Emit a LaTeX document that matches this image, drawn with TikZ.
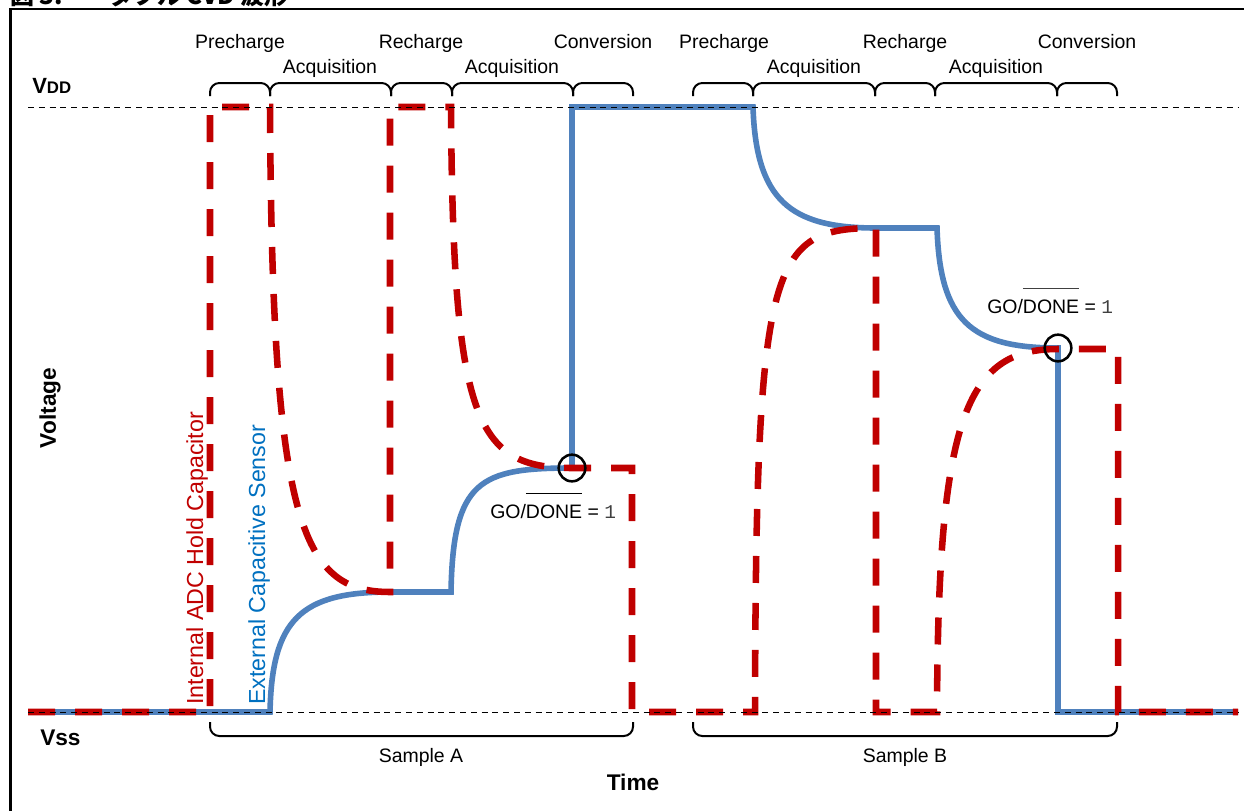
\documentclass[tikz,border=0pt]{standalone}
\usepackage{fontspec}
\setmainfont{Liberation Sans}
\newfontfamily\monofont{Liberation Mono}
\newfontfamily\cjkfont{Noto Sans CJK JP}

\definecolor{holdred}{HTML}{C00000}
\definecolor{sensorblue}{HTML}{4F81BD}
\definecolor{sensortext}{HTML}{0070C0}
\definecolor{digitgray}{HTML}{404040}

% bar drawn high above a word (active-low signal name)
\newcommand\barsig[2][black]{\setbox0\hbox{#2}\rlap{\textcolor{#1}{\rule[1.22em]{\wd0}{0.8pt}}}\box0\relax}

\begin{document}
\begin{tikzpicture}[x=0.75pt,y=-0.75pt,
  frame/.style={line width=2.1pt},
  refline/.style={black,line width=0.75pt,dash pattern=on 4.5pt off 3.6pt},
  sensor/.style={sensorblue,line width=4.2pt,line join=miter},
  hold/.style={holdred,line width=4.9pt,dash pattern=on 20.25pt off 15pt},
  brace/.style={line width=1.5pt,rounded corners=7pt},
  marker/.style={circle,draw=black,line width=1.9pt,minimum size=20pt,inner sep=0pt},
  lbl/.style={inner sep=0pt,font=\fontsize{14.6pt}{17pt}\selectfont},
  phase/.style={lbl,anchor=base},
  axis/.style={inner sep=0pt,font=\bfseries\fontsize{17pt}{20pt}\selectfont},
  trace/.style={inner sep=0pt,rotate=90,anchor=base west,font=\fontsize{17.4pt}{20pt}\selectfont}]

\clip (0,0) rectangle (1244,810);

% figure caption, cut by the top edge
\node[inner sep=0pt,anchor=base west,font=\cjkfont\bfseries\fontsize{18pt}{20pt}\selectfont] (capnum) at (10,4) {図 3:};
\node[inner sep=0pt,anchor=base west,font=\cjkfont\bfseries\fontsize{18pt}{20pt}\selectfont] (captext) at (109,4) {ダブル CVD 波形};

% outer frame
\draw[frame] (10.5,9) rectangle (1262,830);

% external sensor voltage
\draw[sensor] (28,712) -- (270,712)
  .. controls (272,620) and (300,592) .. (390,592) -- (451,592)
  .. controls (453,480) and (480,468) .. (572,468) -- (572,107) -- (753,107)
  .. controls (756,200) and (790,228) .. (876,228) -- (937,228)
  .. controls (940,320) and (970,348) .. (1058,348) -- (1058,712) -- (1238,712);

% internal hold capacitor voltage
\draw[hold] (28,712) -- (210,712) -- (210,107) -- (270,107)
  .. controls (272,520) and (300,592) .. (390,592) -- (390,107) -- (451,107)
  .. controls (453,420) and (475,468) .. (572,468) -- (632,468) -- (632,712) -- (755,712)
  .. controls (756,260) and (770,228) .. (876,228) -- (876,712) -- (937,712)
  .. controls (938,420) and (965,349) .. (1058,349) -- (1118,349) -- (1118,712) -- (1238,712);

% supply rails
\coordinate (vddL) at (28,107);
\coordinate (vddR) at (1238,107);
\coordinate (vssL) at (28,712);
\coordinate (vssR) at (1238,712);
\draw[refline] (vddL) -- (vddR);
\draw[refline] (vssL) -- (vssR);

% conversion start markers
\node[marker] (goA) at (572,468) {};
\node[marker] (goB) at (1058,348) {};

% phase braces
\foreach \a/\b in {210/270,270/391,391/452,452/573,573/633,693/753,753/875,875/935,935/1057,1057/1117}
  \draw[brace] (\a,96) -- (\a,83) -- (\b,83) -- (\b,96);

% sample brackets
\draw[brace] (210,722) -- (210,736) -- (633,736) -- (633,722);
\draw[brace] (693,722) -- (693,736) -- (1117,736) -- (1117,722);

% phase names
\node[phase] (pre1) at (240,48) {Precharge};
\node[phase] (rec1) at (421,48) {Recharge};
\node[phase] (conv1) at (603,48) {Conversion};
\node[phase] (pre2) at (724,48) {Precharge};
\node[phase] (rec2) at (905,48) {Recharge};
\node[phase] (conv2) at (1087,48) {Conversion};
\node[phase] (acq1) at (330,73) {Acquisition};
\node[phase] (acq2) at (512,73) {Acquisition};
\node[phase] (acq3) at (814,73) {Acquisition};
\node[phase] (acq4) at (996,73) {Acquisition};

\node[phase] (sampA) at (421,762) {Sample A};
\node[phase] (sampB) at (905,762) {Sample B};

% conversion trigger notes
\node[lbl,anchor=base west] (doneA) at (490,518) {GO/\barsig{DONE} = {\monofont\color{digitgray}1}};
\node[lbl,anchor=base west] (doneB) at (987,313) {GO/\barsig[digitgray]{DONE} = {\monofont\color{digitgray}1}};

% trace names
\node[trace,text=holdred] (holdlbl) at (203,705) {Internal ADC Hold Capacitor};
\node[trace,text=sensortext] (senslbl) at (265,705) {External Capacitive Sensor};

% axes
\node[inner sep=0pt,anchor=base west] (vdd) at (32,93) {\bfseries\fontsize{16.5pt}{18pt}\selectfont V\fontsize{12.6pt}{14pt}\selectfont DD};
\node[axis,anchor=base west] (vss) at (40,745) {Vss};
\node[axis,rotate=90] (volt) at (50,408) {Voltage};
\node[axis,anchor=base] (time) at (633,790) {Time};

\end{tikzpicture}
\end{document}
